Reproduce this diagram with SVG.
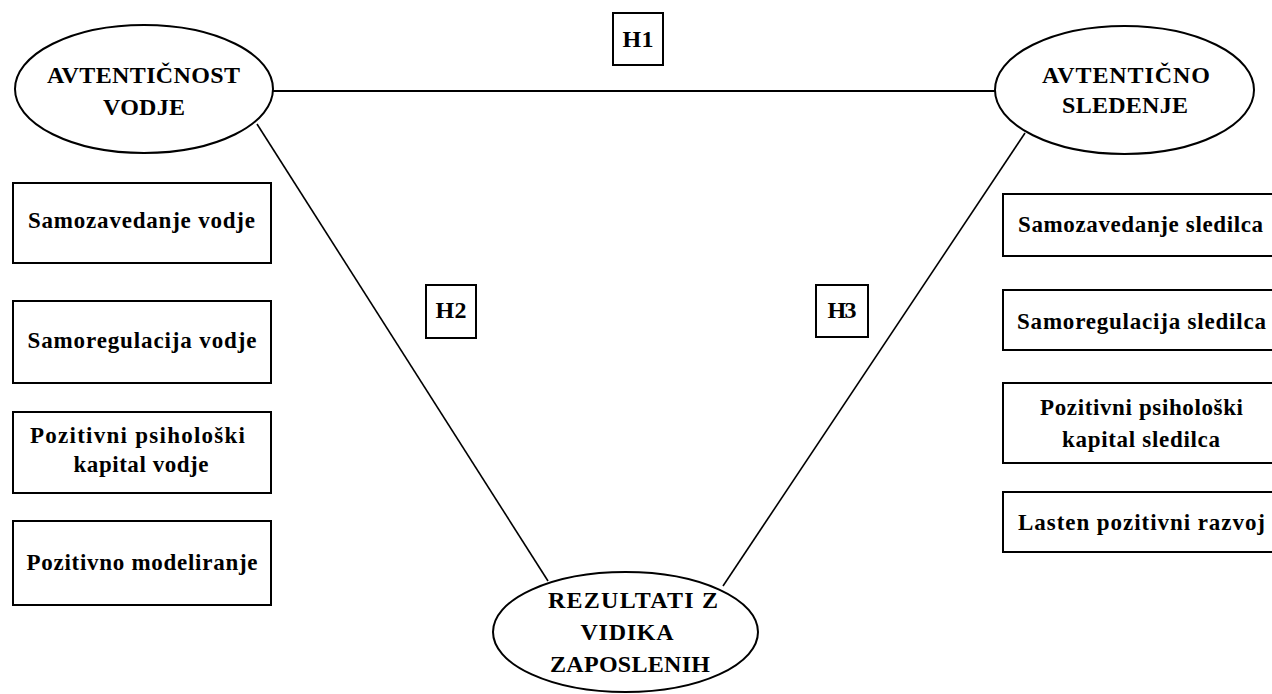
<svg xmlns="http://www.w3.org/2000/svg" width="1272" height="694" viewBox="0 0 1272 694">
<style>
.shape{fill:#fff;stroke:#000;stroke-width:2}
.conn{stroke:#000;stroke-width:2;fill:none}
.diag{stroke:#000;stroke-width:1.6;fill:none}
text{font-family:"Liberation Serif","Times New Roman",serif;font-weight:bold;font-size:23px;fill:#000;text-anchor:middle}
text.big{font-size:24px}
</style>
<rect width="1272" height="694" fill="#fff"/>
<g id="connectors">
<line class="conn" x1="273" y1="91" x2="995" y2="91"/>
<line class="diag" x1="257" y1="124" x2="548" y2="581"/>
<line class="diag" x1="1025" y1="133" x2="723" y2="586"/>
</g>
<g id="node-avtenticnost-vodje">
<ellipse class="shape" cx="144" cy="89" rx="129" ry="64"/>
<text class="big" x="143.5" y="83" textLength="193" lengthAdjust="spacing">AVTENTIČNOST</text>
<text class="big" x="144" y="115" textLength="82" lengthAdjust="spacing">VODJE</text>
</g>
<g id="node-avtenticno-sledenje">
<ellipse class="shape" cx="1124.5" cy="90" rx="129.5" ry="64"/>
<text class="big" x="1126" y="83" textLength="168" lengthAdjust="spacing">AVTENTIČNO</text>
<text class="big" x="1125" y="113" textLength="126" lengthAdjust="spacing">SLEDENJE</text>
</g>
<g id="node-rezultati">
<ellipse class="shape" cx="625.5" cy="632" rx="132.5" ry="60"/>
<text class="big" x="633" y="608" textLength="170" lengthAdjust="spacing">REZULTATI Z</text>
<text class="big" x="627" y="640" textLength="93" lengthAdjust="spacing">VIDIKA</text>
<text class="big" x="630" y="672" textLength="160" lengthAdjust="spacing">ZAPOSLENIH</text>
</g>
<g id="label-h1">
<rect class="shape" x="613" y="13" width="50" height="52"/>
<text class="big" x="638" y="47" textLength="31" lengthAdjust="spacing">H1</text>
</g>
<g id="label-h2">
<rect class="shape" x="426" y="285" width="50" height="53"/>
<text class="big" x="451" y="318" textLength="31" lengthAdjust="spacing">H2</text>
</g>
<g id="label-h3">
<rect class="shape" x="816" y="285" width="52" height="52"/>
<text class="big" x="842" y="318" textLength="29" lengthAdjust="spacing">H3</text>
</g>
<g id="node-samozavedanje-vodje">
<rect class="shape" x="13" y="183" width="258" height="80"/>
<text x="141.5" y="228" textLength="227" lengthAdjust="spacing">Samozavedanje vodje</text>
</g>
<g id="node-samoregulacija-vodje">
<rect class="shape" x="13" y="301" width="258" height="82"/>
<text x="142" y="348" textLength="229" lengthAdjust="spacing">Samoregulacija vodje</text>
</g>
<g id="node-kapital-vodje">
<rect class="shape" x="13" y="412" width="258" height="81"/>
<text x="137.5" y="443" textLength="215" lengthAdjust="spacing">Pozitivni psihološki</text>
<text x="141" y="472" textLength="135" lengthAdjust="spacing">kapital vodje</text>
</g>
<g id="node-pozitivno-modeliranje">
<rect class="shape" x="13" y="521" width="258" height="84"/>
<text x="142" y="570" textLength="231" lengthAdjust="spacing">Pozitivno modeliranje</text>
</g>
<g id="node-samozavedanje-sledilca">
<rect class="shape" x="1003" y="194" width="280" height="62"/>
<text x="1140.5" y="232" textLength="245" lengthAdjust="spacing">Samozavedanje sledilca</text>
</g>
<g id="node-samoregulacija-sledilca">
<rect class="shape" x="1003" y="290" width="280" height="60"/>
<text x="1141.5" y="329" textLength="249" lengthAdjust="spacing">Samoregulacija sledilca</text>
</g>
<g id="node-kapital-sledilca">
<rect class="shape" x="1003" y="383" width="280" height="80"/>
<text x="1141.5" y="415" textLength="203" lengthAdjust="spacing">Pozitivni psihološki</text>
<text x="1141" y="447" textLength="158" lengthAdjust="spacing">kapital sledilca</text>
</g>
<g id="node-lasten-razvoj">
<rect class="shape" x="1003" y="492" width="280" height="60"/>
<text x="1141.5" y="530" textLength="247" lengthAdjust="spacing">Lasten pozitivni razvoj</text>
</g>
</svg>
